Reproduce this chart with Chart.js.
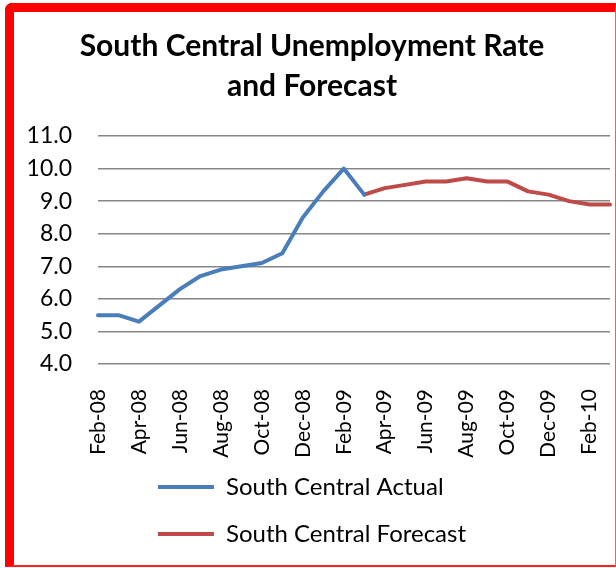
<!DOCTYPE html>
<html>
<head>
<meta charset="utf-8">
<script src="https://cdn.jsdelivr.net/npm/chart.js@4.4.1/dist/chart.umd.min.js"></script>
<style>
  html, body { margin: 0; padding: 0; background: #fff; }
  body { width: 616px; height: 568px; position: relative; overflow: hidden; }
  .frame {
    position: absolute; left: 5px; top: 3px;
    width: 601px; height: 553px;
    border-left: 9px solid #ff0000;
    border-top: 9px solid #ff0000;
    border-right: 1px solid #f06060;
    border-bottom: 2px solid #ff2020;
    border-top-left-radius: 7px;
  }
  .frame canvas { display: block; }
</style>
</head>
<body>
<div class="frame"><canvas id="chart" width="601" height="553"></canvas></div>
<script>
// months on the category axis, Feb-08 .. Mar-10
const months = ['Feb-08', 'Mar-08', 'Apr-08', 'May-08', 'Jun-08', 'Jul-08', 'Aug-08', 'Sep-08',
  'Oct-08', 'Nov-08', 'Dec-08', 'Jan-09', 'Feb-09', 'Mar-09', 'Apr-09', 'May-09', 'Jun-09',
  'Jul-09', 'Aug-09', 'Sep-09', 'Oct-09', 'Nov-09', 'Dec-09', 'Jan-10', 'Feb-10', 'Mar-10'];

const actual = [5.5, 5.5, 5.3, 5.8, 6.3, 6.7, 6.9, 7.0, 7.1, 7.4, 8.5, 9.3, 10.0, 9.2,
  null, null, null, null, null, null, null, null, null, null, null, null];

const forecast = [null, null, null, null, null, null, null, null, null, null, null, null, null,
  9.2, 9.4, 9.5, 9.6, 9.6, 9.7, 9.6, 9.6, 9.3, 9.2, 9.0, 8.9, 8.9];

const yTicks = [4, 5, 6, 7, 8, 9, 10, 11];

const fontFam = 'Lato, "Open Sans", sans-serif';

// legend: both rows start at the same x, and sit a bit higher (overlapping the x-axis box)
const legendRows = {
    id: 'legendRows',
    afterLayout(chart) {
        const lg = chart.legend;
        if (lg) { lg.top -= 9; lg.bottom -= 9; }
    },
    beforeDraw(chart) {
        const lg = chart.legend;
        if (lg && lg.lineWidths && lg.lineWidths.length > 1) {
            const m = Math.max(...lg.lineWidths);
            lg.lineWidths = lg.lineWidths.map(() => m);
        }
    }
};

new Chart(document.getElementById('chart'), {
    type: 'line',
    data: {
        labels: months,
        datasets: [{
            label: 'South Central Actual',
            data: actual,
            borderColor: '#4a7ebb',
            backgroundColor: '#4a7ebb',
            borderWidth: 4,
            borderCapStyle: 'round',
            borderJoinStyle: 'round',
            pointRadius: 0,
            tension: 0
        }, {
            label: 'South Central Forecast',
            data: forecast,
            borderColor: '#be4b48',
            backgroundColor: '#be4b48',
            borderWidth: 4,
            borderCapStyle: 'round',
            borderJoinStyle: 'round',
            pointRadius: 0,
            tension: 0
        }]
    },
    options: {
        responsive: false,
        animation: false,
        layout: { padding: { left: 0, right: 5, top: 0, bottom: 0 } },
        plugins: {
            title: {
                display: true,
                text: ['South Central Unemployment Rate', 'and Forecast'],
                color: '#000',
                font: { family: fontFam, size: 30, weight: 'bold', lineHeight: 40 / 30 },
                padding: { top: 14, bottom: 30 }
            },
            legend: {
                position: 'bottom',
                labels: {
                    usePointStyle: true,
                    pointStyle: 'line',
                    pointStyleWidth: 56,
                    padding: 23,
                    color: '#000',
                    font: { family: fontFam, size: 24 }
                }
            },
            tooltip: { enabled: false }
        },
        scales: {
            x: {
                offset: false,
                grid: { display: false, drawTicks: false },
                border: { display: false },
                afterFit: function (axis) {
                    axis.height = 97;
                    axis.paddingLeft = 0;
                    axis.paddingRight = 0;
                },
                ticks: {
                    autoSkip: false,
                    minRotation: 90,
                    maxRotation: 90,
                    padding: 25,
                    color: '#000',
                    font: { family: fontFam, size: 21 },
                    callback: function (v, i) { return i % 2 === 0 ? months[i] : ''; }
                }
            },
            y: {
                min: yTicks[0],
                max: yTicks[yTicks.length - 1],
                afterBuildTicks: function (axis) { axis.ticks = yTicks.map(v => ({ value: v })); },
                afterFit: function (axis) { axis.width = 84; },
                grid: { color: '#868686', lineWidth: 1.5, drawTicks: false },
                border: { display: false },
                ticks: {
                    autoSkip: false,
                    padding: 26,
                    color: '#000',
                    font: { family: fontFam, size: 23 },
                    callback: function (v) { return Number(v).toFixed(1); }
                }
            }
        }
    },
    plugins: [legendRows]
});
</script>
</body>
</html>
